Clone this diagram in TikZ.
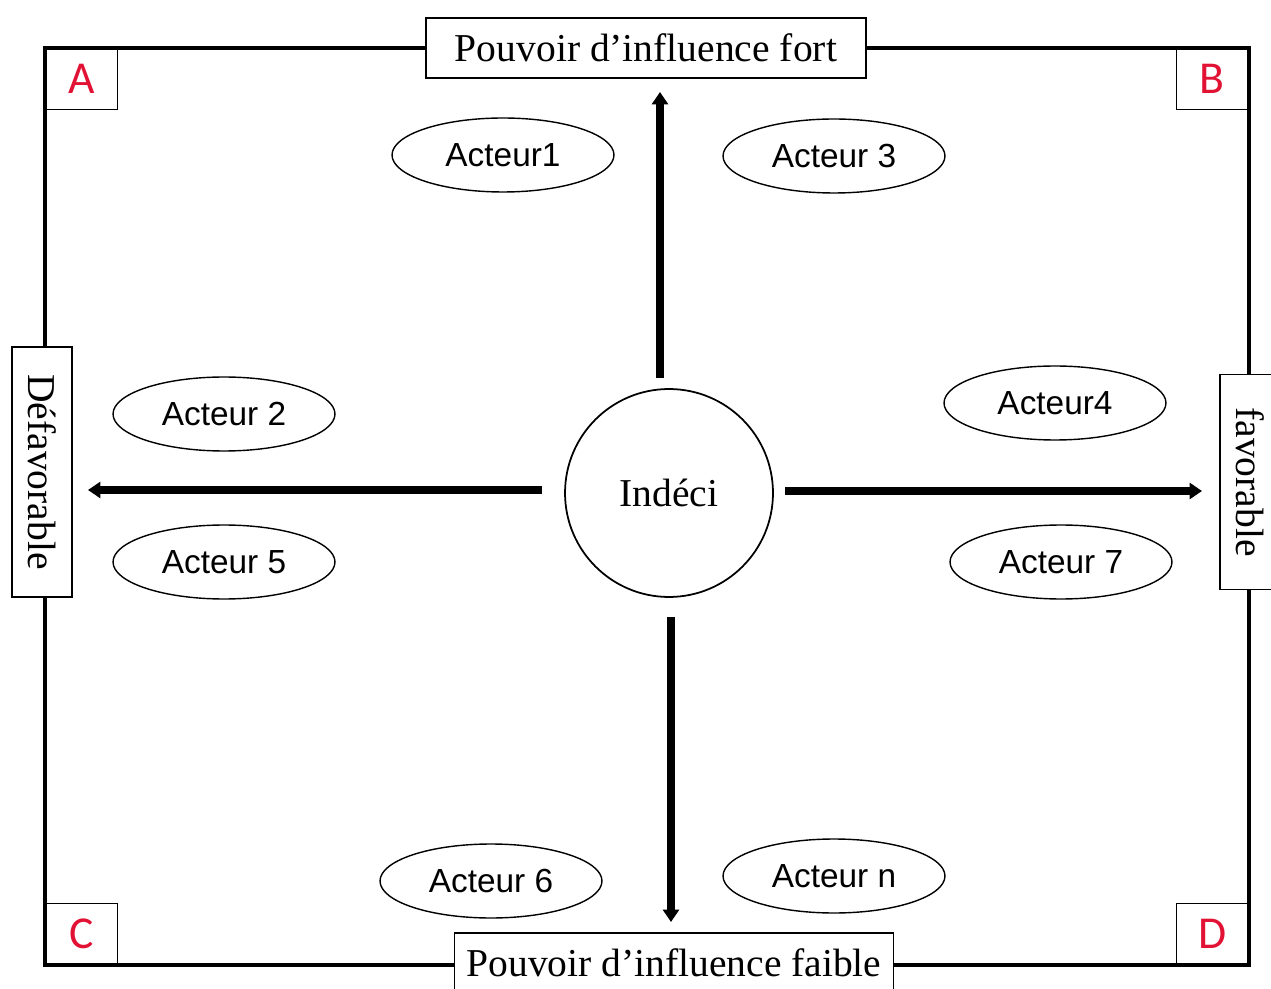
\documentclass[tikz,border=0pt]{standalone}
\usepackage{fontspec}
\setmainfont{Liberation Serif}
\newfontfamily\arialfont{Liberation Sans}
\newfontfamily\coinfont{Carlito}
\usetikzlibrary{shapes.geometric,arrows.meta}
\definecolor{lettrerouge}{RGB}{226,18,52}

\begin{document}
\begin{tikzpicture}[x=0.02cm,y=-0.02cm,
    acteur/.style={draw,ellipse,line width=0.8pt,minimum width=4.44cm,minimum height=1.48cm,inner sep=0pt,font=\arialfont\fontsize{19}{22}\selectfont},
    axelabel/.style={draw,fill=white,line width=0.8pt,minimum height=1.2cm,inner sep=0pt,font=\fontsize{22.5}{26}\selectfont},
    coin/.style={draw,line width=0.8pt,minimum width=1.44cm,minimum height=1.22cm,inner sep=0pt,text=lettrerouge,font=\coinfont\fontsize{26}{30}\selectfont},
    axe/.style={line width=4.5pt,-{Triangle[length=7pt,width=9pt]}}]

        \useasboundingbox (0,0) rectangle (1271,989);

        % cadre
        \draw[line width=2pt] (45,48) rectangle (1249,965);

        \node[coin,anchor=north west] (coinA) at (45,48) {A};
        \node[coin,anchor=north east] (coinB) at (1249,48) {B};
        \node[coin,anchor=south west] (coinC) at (45,965) {C};
        \node[coin,anchor=south east] (coinD) at (1249,965) {D};

        % libelles des axes
        \node[axelabel,minimum width=8.8cm] (fort) at (646,48) {Pouvoir d’influence fort};
        \node[axelabel,minimum width=8.78cm] (faible) at (674,963) {Pouvoir d’influence faible};
        \node[axelabel,rotate=-90,minimum width=5cm] (defav) at (42,472) {Défavorable};
        \node[axelabel,rotate=-90,minimum width=4.3cm] (fav) at (1250,482) {favorable};

        \node[draw,circle,line width=1pt,minimum size=4.16cm,font=\fontsize{22.5}{26}\selectfont] (indeci) at (669,493) {Indéci};

        % fleches
        \coordinate (hautdeb) at (660,378);
        \coordinate (hautfin) at (660,92);
        \coordinate (gauchedeb) at (542,490);
        \coordinate (gauchefin) at (88,490);
        \coordinate (droitedeb) at (785,491);
        \coordinate (droitefin) at (1202,491);
        \coordinate (basdeb) at (671,617);
        \coordinate (basfin) at (671,922);
        \draw[axe] (hautdeb) -- (hautfin);
        \draw[axe] (gauchedeb) -- (gauchefin);
        \draw[axe] (droitedeb) -- (droitefin);
        \draw[axe] (basdeb) -- (basfin);

        % acteurs
        \node[acteur] (acteur1) at (503,155) {Acteur1};
        \node[acteur] (acteur3) at (834,156) {Acteur 3};
        \node[acteur] (acteur2) at (224,414) {Acteur 2};
        \node[acteur] (acteur5) at (224,562) {Acteur 5};
        \node[acteur] (acteur4) at (1055,403) {Acteur4};
        \node[acteur] (acteur7) at (1061,562) {Acteur 7};
        \node[acteur] (acteur6) at (491,881) {Acteur 6};
        \node[acteur] (acteurn) at (834,876) {Acteur n};

    \end{tikzpicture}
\end{document}
